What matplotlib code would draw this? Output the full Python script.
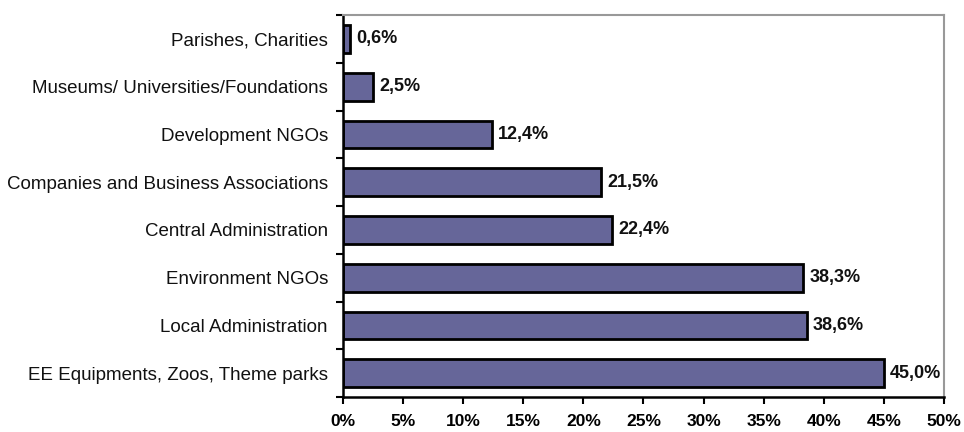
import numpy as np
import matplotlib.pyplot as plt
from matplotlib.ticker import FixedLocator

# categories from bottom to top
categories = ['EE Equipments, Zoos, Theme parks', 'Local Administration', 'Environment NGOs',
              'Central Administration', 'Companies and Business Associations',
              'Development NGOs', 'Museums/ Universities/Foundations', 'Parishes, Charities']
values = [45.0, 38.6, 38.3, 22.4, 21.5, 12.4, 2.5, 0.6]
x_ticks = [0, 5, 10, 15, 20, 25, 30, 35, 40, 45, 50]

plt.rcParams['font.family'] = ['Liberation Sans', 'DejaVu Sans']

fig = plt.figure(figsize=(9.64, 4.32), dpi=100)
ax = fig.add_axes([0.356, 0.081, 0.623, 0.884])

y = np.arange(len(categories))
ax.barh(y, values, height=0.58, color='#666699', edgecolor='black', linewidth=2)

for yi, v in zip(y, values):
    ax.text(v + 0.5, yi, ('%.1f%%' % v).replace('.', ','), va='center', ha='left',
            fontsize=13, fontweight='bold', color='#111111')

ax.set_xlim(0, 50)
ax.set_ylim(-0.5, len(categories) - 0.5)
ax.set_xticks(x_ticks)
ax.set_xticklabels(['%d%%' % t for t in x_ticks], fontweight='bold', fontsize=12.5)
ax.tick_params(axis='x', direction='out', length=5, width=1.5, pad=7)

# labels at bar centres, ticks at category boundaries
ax.set_yticks(np.arange(-0.5, len(categories), 1.0))
ax.set_yticklabels([])
ax.yaxis.set_minor_locator(FixedLocator(y))
ax.set_yticklabels(categories, minor=True, fontsize=13.5, color='#111111')
ax.tick_params(axis='y', which='major', direction='out', length=5, width=1.5)
ax.tick_params(axis='y', which='minor', length=0, pad=11)

for s in ['left', 'bottom']:
    ax.spines[s].set_linewidth(1.8)
    ax.spines[s].set_color('black')
for s in ['top', 'right']:
    ax.spines[s].set_linewidth(1.5)
    ax.spines[s].set_color('#999999')

fig.savefig('out.png', dpi=100)
